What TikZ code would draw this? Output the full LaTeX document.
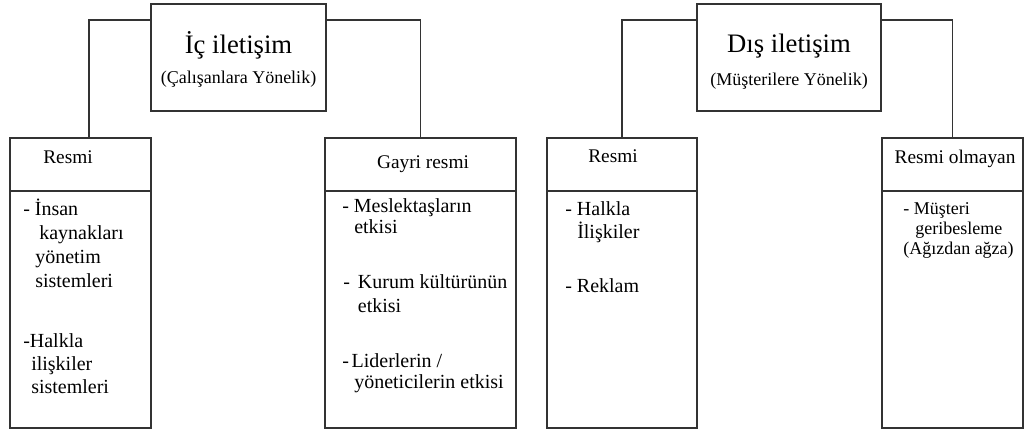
\documentclass[tikz,border=0pt]{standalone}
\usepackage{fontspec}
\setmainfont{Liberation Serif}
\usetikzlibrary{positioning}

\newcommand{\girinti}{\hspace*{9pt}}

\tikzset{
    kutu/.style={draw=black!80, line width=0.9pt, rectangle, inner sep=0pt, outer sep=0pt},
    ustkutu/.style={kutu, minimum width=#1, minimum height=39.75pt, anchor=north west},
    altkutu/.style={kutu, minimum width=#1, minimum height=177.75pt},
    hat/.style={draw=black!80, line width=0.9pt},
    baslik/.style={font=\fontsize{20}{24}\selectfont, inner sep=0pt, anchor=base},
    altbaslik/.style={font=\fontsize{13.5}{16}\selectfont, inner sep=0pt, anchor=base},
    grup/.style={font=\fontsize{14.5}{17}\selectfont, inner sep=0pt, anchor=base},
    % base = son satirin tabani
    madde/.style={font=\fontsize{15}{#1}\selectfont, inner sep=0pt, anchor=base west, align=left},
    madde/.default=17.5pt,
}

\begin{document}
\begin{tikzpicture}[x=0.75pt, y=-0.75pt]
    \useasboundingbox (0,0) rectangle (1024,433);

    % Ic iletisim
    \node[kutu, minimum width=131.25pt, minimum height=80.25pt, anchor=north west] (ic) at (151,4) {};
    \node[baslik] (icT) at (238.5,53) {İç iletişim};
    \node[altbaslik] (icA) at (238.5,83) {(Çalışanlara Yönelik)};

    % Dis iletisim
    \node[kutu, minimum width=138pt, minimum height=80.25pt, anchor=north west] (dis) at (697,4) {};
    \node[baslik] (disT) at (789,52) {Dış iletişim};
    \node[altbaslik] (disA) at (789,85) {(Müşterilere Yönelik)};

    % Alt kutular
    \node[ustkutu=105.75pt] (icR) at (10,138) {};
    \node[altkutu=105.75pt, below=0pt of icR] (icRb) {};
    \node[ustkutu=143.25pt] (icG) at (325,138) {};
    \node[altkutu=143.25pt, below=0pt of icG] (icGb) {};
    \node[ustkutu=112.5pt] (disR) at (547,138) {};
    \node[altkutu=112.5pt, below=0pt of disR] (disRb) {};
    \node[ustkutu=105.75pt] (disO) at (882,138) {};
    \node[altkutu=105.75pt, below=0pt of disO] (disOb) {};

    % Baglantilar
    \draw[hat] ([yshift=-12pt]ic.north west) -| ([xshift=6.4pt]icR.north);
    \draw[hat] ([yshift=-12pt]ic.north east) -| (icG.north);
    \draw[hat] ([yshift=-12pt]dis.north west) -| (disR.north);
    \draw[hat] ([yshift=-12pt]dis.north east) -| (disO.north);

    % Basliklar
    \node[grup] (icRt) at (68,163) {Resmi};
    \node[grup] (icGt) at (423,168) {Gayri resmi};
    \node[grup] (disRt) at (613,162) {Resmi};
    \node[grup] (disOt) at (955,163) {Resmi olmayan};

    % Maddeler
    \node[madde=18pt] (m1) at (23,287)
        {- İnsan\\\girinti\hspace*{3pt}kaynakları\\\girinti yönetim\\\girinti sistemleri};
    \node[madde=17.25pt] (m2) at (23,393) {-Halkla\\\hspace*{6pt}ilişkiler\\\hspace*{6pt}sistemleri};
    \node[madde=15.75pt] (m3) at (342,233) {- Meslektaşların\\\girinti etkisi};
    \node[madde=18pt] (m4) at (343,312) {-\hspace*{6pt}Kurum kültürünün\\\hspace*{11pt}etkisi};
    \node[madde=15.75pt] (m5) at (342,388) {-\hspace*{2pt}Liderlerin /\\\girinti yöneticilerin etkisi};
    \node[madde=17.25pt] (m6) at (565,238) {- Halkla\\\girinti İlişkiler};
    \node[madde] (m7) at (565,292) {- Reklam};
    \node[madde=15pt, font=\fontsize{13.5}{15}\selectfont] (m8) at (903,254)
        {- Müşteri\\\girinti geribesleme\\(Ağızdan ağza)};
\end{tikzpicture}
\end{document}
